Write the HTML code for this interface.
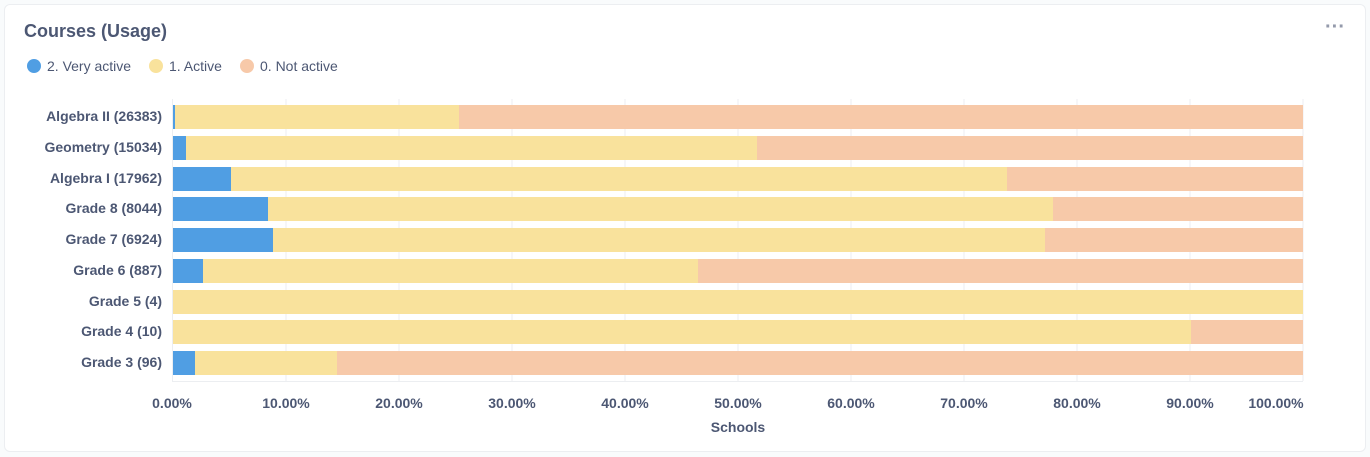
<!DOCTYPE html>
<html><head><style>
body{margin:0;background:#f9fbfc;font-family:"Liberation Sans",sans-serif;}
.card{position:absolute;left:4px;top:4px;width:1360px;height:446px;background:#fff;border:1px solid #eceef1;border-radius:6px;}
</style></head><body>
<div class="card"></div>
<svg width="1370" height="457" style="position:absolute;left:0;top:0" font-family="Liberation Sans, sans-serif">
<text x="24" y="37" font-size="18" font-weight="bold" fill="#4c5773">Courses (Usage)</text>
<text x="1325" y="33" font-size="20" font-weight="bold" fill="#949aab">···</text>
<circle cx="34" cy="66" r="7" fill="#509ee3"/><text x="47" y="71" font-size="14" fill="#4c5773">2. Very active</text>
<circle cx="156" cy="66" r="7" fill="#f9e29c"/><text x="169" y="71" font-size="14" fill="#4c5773">1. Active</text>
<circle cx="247" cy="66" r="7" fill="#f7c9a9"/><text x="260" y="71" font-size="14" fill="#4c5773">0. Not active</text>
<g stroke="#eceef1" stroke-width="1">
<line x1="286" y1="99" x2="286" y2="381"/><line x1="399" y1="99" x2="399" y2="381"/><line x1="512" y1="99" x2="512" y2="381"/><line x1="625" y1="99" x2="625" y2="381"/><line x1="738" y1="99" x2="738" y2="381"/><line x1="851" y1="99" x2="851" y2="381"/><line x1="964" y1="99" x2="964" y2="381"/><line x1="1077" y1="99" x2="1077" y2="381"/><line x1="1190" y1="99" x2="1190" y2="381"/><line x1="1303" y1="99" x2="1303" y2="381"/>
<line x1="172.5" y1="99" x2="172.5" y2="382"/><line x1="172" y1="381.5" x2="1303" y2="381.5"/>
</g>
<g font-size="14" fill="#4c5773" text-anchor="middle" font-weight="bold">
<text x="172" y="408">0.00%</text><text x="286" y="408">10.00%</text><text x="399" y="408">20.00%</text><text x="512" y="408">30.00%</text><text x="625" y="408">40.00%</text><text x="738" y="408">50.00%</text><text x="851" y="408">60.00%</text><text x="964" y="408">70.00%</text><text x="1077" y="408">80.00%</text><text x="1190" y="408">90.00%</text><text x="1276" y="408">100.00%</text>
<text x="738" y="432">Schools</text>
</g>
<g font-size="14" fill="#4c5773" text-anchor="end" font-weight="bold">
<text x="162" y="121">Algebra II (26383)</text>
<text x="162" y="152">Geometry (15034)</text>
<text x="162" y="183">Algebra I (17962)</text>
<text x="162" y="213">Grade 8 (8044)</text>
<text x="162" y="244">Grade 7 (6924)</text>
<text x="162" y="275">Grade 6 (887)</text>
<text x="162" y="306">Grade 5 (4)</text>
<text x="162" y="336">Grade 4 (10)</text>
<text x="162" y="367">Grade 3 (96)</text>
</g>
<g>
<rect x="173" y="105" width="1130" height="24" fill="#f7c9a9"/><rect x="173" y="105" width="286" height="24" fill="#f9e29c"/><rect x="173" y="105" width="2" height="24" fill="#509ee3"/>
<rect x="173" y="136" width="1130" height="24" fill="#f7c9a9"/><rect x="173" y="136" width="584" height="24" fill="#f9e29c"/><rect x="173" y="136" width="13" height="24" fill="#509ee3"/>
<rect x="173" y="167" width="1130" height="24" fill="#f7c9a9"/><rect x="173" y="167" width="834" height="24" fill="#f9e29c"/><rect x="173" y="167" width="58" height="24" fill="#509ee3"/>
<rect x="173" y="197" width="1130" height="24" fill="#f7c9a9"/><rect x="173" y="197" width="880" height="24" fill="#f9e29c"/><rect x="173" y="197" width="95" height="24" fill="#509ee3"/>
<rect x="173" y="228" width="1130" height="24" fill="#f7c9a9"/><rect x="173" y="228" width="872" height="24" fill="#f9e29c"/><rect x="173" y="228" width="100" height="24" fill="#509ee3"/>
<rect x="173" y="259" width="1130" height="24" fill="#f7c9a9"/><rect x="173" y="259" width="525" height="24" fill="#f9e29c"/><rect x="173" y="259" width="30" height="24" fill="#509ee3"/>
<rect x="173" y="290" width="1130" height="24" fill="#f9e29c"/>
<rect x="173" y="320" width="1130" height="24" fill="#f7c9a9"/><rect x="173" y="320" width="1018" height="24" fill="#f9e29c"/>
<rect x="173" y="351" width="1130" height="24" fill="#f7c9a9"/><rect x="173" y="351" width="164" height="24" fill="#f9e29c"/><rect x="173" y="351" width="22" height="24" fill="#509ee3"/>
</g>
</svg>
</body></html>
